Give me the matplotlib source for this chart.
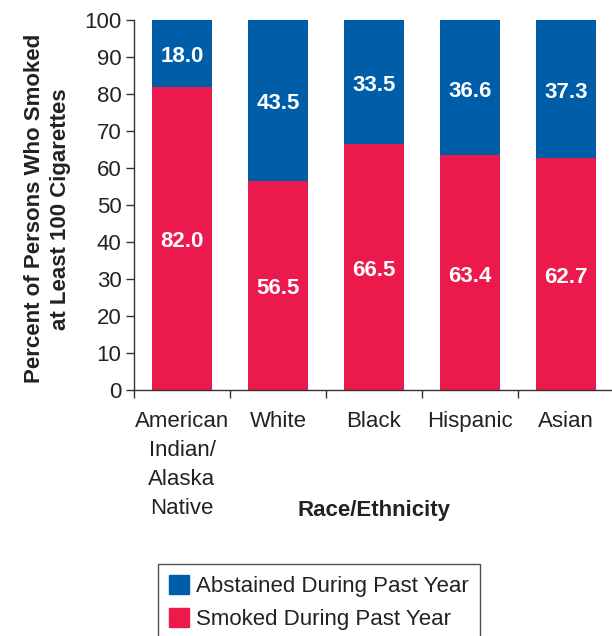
import numpy as np
import matplotlib
matplotlib.use("Agg")
import matplotlib.pyplot as plt
from matplotlib.patches import Patch

plt.rcParams["font.family"] = ["Liberation Sans", "DejaVu Sans"]

# ---------------------------------------------------------------------------
# Data
# ---------------------------------------------------------------------------

GROUPS    = ["American\nIndian/\nAlaska\nNative", "White", "Black", "Hispanic", "Asian"]
SMOKED    = [82.0, 56.5, 66.5, 63.4, 62.7]
ABSTAINED = [18.0, 43.5, 33.5, 36.6, 37.3]

BLUE = "#005EA8"
RED  = "#EC1A4C"
INK  = "#222222"
FS   = 16

W, H = 612, 636

fig = plt.figure(figsize=(W / 100, H / 100), dpi=100)
ax = fig.add_axes([134 / W, 1 - 390 / H, 480 / W, 370 / H])

x = np.arange(len(GROUPS))
width = 0.635

ax.bar(x, SMOKED, width, color=RED, zorder=2)
ax.bar(x, ABSTAINED, width, bottom=SMOKED, color=BLUE, zorder=2)

# value labels centred inside each segment (nudged slightly down)
for xi, s, a in zip(x, SMOKED, ABSTAINED):
    for yc, val in ((s / 2, s), (s + a / 2, a)):
        ax.annotate(f"{val:.1f}", (xi, yc), xytext=(0, -2.5),
                    textcoords="offset points", ha="center", va="center",
                    color="white", fontsize=FS, fontweight="bold", zorder=3)

ax.set_xlim(-0.5, len(GROUPS) - 0.5)
ax.set_ylim(0, 100)
ax.set_yticks(np.arange(0, 101, 10))

# category names on major ticks, tick marks at the group boundaries
ax.set_xticks(x)
ax.set_xticklabels(GROUPS, fontsize=FS, color=INK, linespacing=1.5, va="top")
ax.set_xticks(np.arange(-0.5, len(GROUPS), 1.0), minor=True)
ax.tick_params(axis="x", which="major", length=0, pad=15)
ax.tick_params(axis="x", which="minor", length=6, width=1, color="#333333")
ax.tick_params(axis="y", length=6, width=1, color="#333333",
               labelsize=FS, labelcolor=INK, pad=3)

for side in ("top", "right"):
    ax.spines[side].set_visible(False)
for side in ("left", "bottom"):
    ax.spines[side].set_color("#333333")
    ax.spines[side].set_linewidth(1)

ax.set_ylabel("Percent of Persons Who Smoked\nat Least 100 Cigarettes",
              fontsize=FS, fontweight="bold", color=INK, linespacing=1.3)
ax.yaxis.set_label_coords(-0.132, 0.49)
ax.set_xlabel("Race/Ethnicity", fontsize=FS, fontweight="bold", color=INK)
ax.xaxis.set_label_coords(0.5, -0.297)

handles = [Patch(color=BLUE), Patch(color=RED)]
labels  = ["Abstained During Past Year", "Smoked During Past Year"]
leg = fig.legend(handles, labels, loc="upper left",
                 bbox_to_anchor=(158 / W, 1 - 564 / H), borderaxespad=0,
                 fontsize=FS, frameon=True, fancybox=False,
                 handlelength=0.9, handleheight=0.9, handletextpad=0.3,
                 labelspacing=0.5, borderpad=0.5)
leg.get_frame().set_edgecolor("#222222")
leg.get_frame().set_linewidth(1)
for t in leg.get_texts():
    t.set_color(INK)

fig.savefig("out.png", dpi=100)
